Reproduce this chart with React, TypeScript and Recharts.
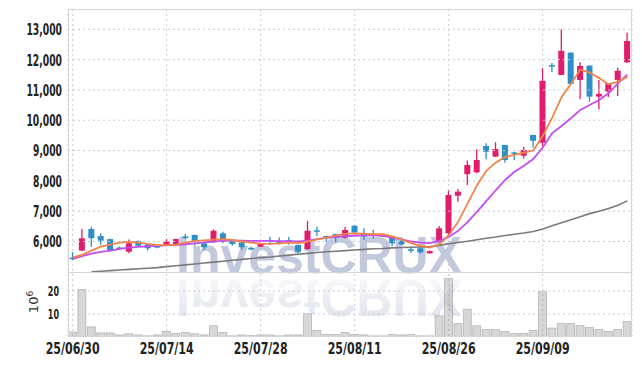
import { ComposedChart, Bar, Line, XAxis, YAxis, CartesianGrid, ReferenceLine } from "recharts";

// trading days 25/06/30 .. 25/09/22
const dates = [
  "25/06/30", "25/07/01", "25/07/02", "25/07/03", "25/07/04", "25/07/07", "25/07/08", "25/07/09", "25/07/10", "25/07/11",
  "25/07/14", "25/07/15", "25/07/16", "25/07/17", "25/07/18", "25/07/21", "25/07/22", "25/07/23", "25/07/24", "25/07/25",
  "25/07/28", "25/07/29", "25/07/30", "25/07/31", "25/08/01", "25/08/04", "25/08/05", "25/08/06", "25/08/07", "25/08/08",
  "25/08/11", "25/08/12", "25/08/13", "25/08/14", "25/08/18", "25/08/19", "25/08/20", "25/08/21", "25/08/22", "25/08/25",
  "25/08/26", "25/08/27", "25/08/28", "25/08/29", "25/09/01", "25/09/02", "25/09/03", "25/09/04", "25/09/05", "25/09/08",
  "25/09/09", "25/09/10", "25/09/11", "25/09/12", "25/09/15", "25/09/16", "25/09/17", "25/09/18", "25/09/19", "25/09/22",
];
const tickDates = ["25/06/30", "25/07/14", "25/07/28", "25/08/11", "25/08/26", "25/09/09"];

const opens = [
  5470, 5700, 6410, 6180, 6080, 5800, 5665, 6015, 5905, 5860,
  5890, 5910, 6170, 6215, 5940, 5975, 6270, 6025, 5975, 5790,
  5830, 6050, 6015, 6040, 5885, 5750, 6370, 6180, 6250, 6125,
  6520, 6270, 6250, 6215, 6140, 6025, 5740, 5775, 5610, 5995,
  6270, 7510, 8220, 8283, 9150, 8800, 9185, 8940, 8830, 9515,
  9260, 11820, 11495, 12230, 11330, 11800, 10780, 10945, 11330, 11910,
];
const highs = [
  5650, 6410, 6490, 6270, 6090, 5840, 6070, 6040, 5920, 5880,
  6080, 6090, 6250, 6230, 5950, 6400, 6325, 6040, 5985, 5830,
  5960, 6160, 6130, 6150, 5900, 6680, 6490, 6190, 6260, 6490,
  6530, 6440, 6390, 6230, 6150, 6040, 5830, 5790, 5700, 6510,
  7680, 7730, 8670, 9040, 9240, 9275, 9190, 8960, 9130, 9520,
  11716, 11890, 13000, 12240, 11910, 11820, 11330, 11230, 11730, 12890,
];
const lows = [
  5390, 5680, 5830, 5885, 5670, 5740, 5610, 5830, 5700, 5780,
  5870, 5880, 6080, 5860, 5720, 5960, 5940, 5860, 5730, 5700,
  5820, 5905, 5900, 5890, 5610, 5720, 6180, 5990, 5970, 6100,
  6290, 6050, 6100, 6150, 5840, 5880, 5620, 5610, 5600, 5960,
  6215, 7310, 7865, 8250, 8710, 8790, 8600, 8690, 8730, 9100,
  9150, 11590, 11490, 11190, 10690, 10610, 10360, 10760, 10800, 11890,
];
const closes = [
  5440, 6105, 6110, 6030, 5690, 5770, 5940, 5860, 5775, 5800,
  5990, 6080, 6150, 6000, 5810, 6356, 6015, 5920, 5810, 5765,
  5940, 6000, 5945, 6010, 5665, 6356, 6345, 6110, 6130, 6380,
  6300, 6160, 6220, 6170, 5940, 5905, 5710, 5645, 5685, 6435,
  7535, 7645, 8525, 8690, 8960, 9050, 8690, 8890, 9020, 9325,
  11300, 11790, 12290, 11200, 11790, 10780, 10870, 11220, 11630, 12615,
];
// volume in millions
const volumes = [
  2.2, 20.7, 4.4, 1.8, 1.8, 0.9, 1.4, 0.9, 0.5, 0.9,
  2.4, 1.5, 1.9, 1.4, 0.9, 4.9, 1.9, 0.5, 0.9, 0.6,
  0.9, 0.9, 0.5, 0.9, 0.9, 10.1, 2.8, 1.1, 1.1, 1.9,
  1.1, 0.9, 0.5, 0.5, 1.1, 0.9, 1.1, 0.5, 0.5, 9.2,
  25.4, 5.8, 12.1, 4.9, 3.2, 3.2, 2.4, 1.5, 1.5, 2.8,
  19.7, 3.9, 5.8, 5.8, 4.9, 4.1, 3.2, 2.4, 3.2, 6.7,
];
const maShort = [
  5480, 5560, 5700, 5830, 5900, 5960, 5990, 5960, 5920, 5880,
  5880, 5900, 5960, 6020, 6040, 6060, 6080, 6050, 6000, 5960,
  5930, 5920, 5940, 5960, 5950, 6000, 6070, 6130, 6200, 6250,
  6270, 6260, 6240, 6240, 6170, 6060, 5950, 5860, 5800, 5900,
  6210, 6650, 7250, 7850, 8330, 8600, 8790, 8860, 8930, 9000,
  9480, 10080, 10760, 11200, 11670, 11570, 11390, 11190, 11270, 11430,
];
const maMid = [
  5430, 5520, 5600, 5660, 5700, 5760, 5800, 5820, 5840, 5860,
  5870, 5890, 5910, 5940, 5970, 6000, 6020, 6030, 6030, 6020,
  6020, 6020, 6010, 6010, 6000, 6030, 6080, 6120, 6150, 6180,
  6190, 6200, 6200, 6190, 6130, 6070, 6000, 5960, 5950, 6020,
  6150, 6350, 6640, 6980, 7330, 7690, 8030, 8300, 8500, 8720,
  9100, 9570, 9810, 10065, 10340, 10505, 10670, 10890, 11220, 11500,
];
const maLong = [
  null, null, 5000, 5020, 5040, 5060, 5080, 5100, 5120, 5140,
  5170, 5200, 5230, 5260, 5290, 5320, 5350, 5380, 5410, 5440,
  5470, 5490, 5520, 5550, 5580, 5610, 5640, 5660, 5680, 5700,
  5720, 5740, 5760, 5770, 5790, 5800, 5810, 5820, 5830, 5870,
  5930, 5970, 6010, 6060, 6110, 6150, 6200, 6240, 6280, 6330,
  6410, 6520, 6620, 6720, 6820, 6920, 7000, 7090, 7200, 7340,
];
const priceTicks = [6000, 7000, 8000, 9000, 10000, 11000, 12000, 13000];
const volumeTicks = [10, 20];

const data = dates.map((date, i) => ({
  date,
  open: opens[i],
  high: highs[i],
  low: lows[i],
  close: closes[i],
  range: [lows[i], highs[i]],
  vol: volumes[i],
  ma5: maShort[i],
  ma20: maMid[i],
  ma60: maLong[i],
}));

const UP = "#e01c6c";
const DOWN = "#2c8fc6";
const GRID = "#c9c9dc";
const FONT = "'DejaVu Sans Condensed', 'DejaVu Sans', sans-serif";

// narrow tall digits: squeeze the text to the width seen in the reference
const textWidth = (s: string, digit: number, sep: number) =>
  s.split("").reduce((w, ch) => w + (/[0-9]/.test(ch) ? digit : sep), 0);

function PriceTick(props: any) {
  const { x, y, payload } = props;
  const s = Number(payload.value).toLocaleString("en-US");
  return (
    <text
      x={x}
      y={y}
      dy="0.37em"
      textAnchor="end"
      textLength={textWidth(s, 6.6, 2.6)}
      lengthAdjust="spacingAndGlyphs"
      fontFamily={FONT}
      fontWeight={700}
      fontSize={16}
      fill="#222"
    >
      {s}
    </text>
  );
}

function DateTick(props: any) {
  const { x, y, payload } = props;
  const s = String(payload.value);
  return (
    <text
      x={x}
      y={y}
      dy="0.72em"
      textAnchor="middle"
      textLength={textWidth(s, 6.5, 7.5)}
      lengthAdjust="spacingAndGlyphs"
      fontFamily={FONT}
      fontWeight={700}
      fontSize={15}
      fill="#222"
    >
      {s}
    </text>
  );
}

function VolLabel(props: any) {
  const { viewBox, text } = props;
  if (!viewBox) return null;
  return (
    <text
      x={viewBox.x - 9}
      y={viewBox.y}
      dy="0.37em"
      textAnchor="end"
      textLength={textWidth(text, 5.6, 3)}
      lengthAdjust="spacingAndGlyphs"
      fontFamily={FONT}
      fontWeight={700}
      fontSize={14}
      fill="#222"
    >
      {text}
    </text>
  );
}

function Candle(props: any) {
  const { x, y, width, height, payload } = props;
  if (x == null || y == null) return null;
  const top = Math.min(y, y + height);
  const h = Math.abs(height);
  const { open, close, high, low } = payload;
  const k = high === low ? 0 : h / (high - low);
  const color = close >= open ? UP : DOWN;
  const cx = x + width / 2;
  const bodyTop = top + (high - Math.max(open, close)) * k;
  const bodyH = Math.max(1.5, Math.abs(open - close) * k);
  const bw = 6;
  return (
    <g>
      <line x1={cx} x2={cx} y1={top} y2={top + h} stroke={color} strokeWidth={1.3} />
      <rect x={cx - bw / 2} y={bodyTop} width={bw} height={bodyH} fill={color} />
    </g>
  );
}

function VolBar(props: any) {
  const { x, y, width, height } = props;
  if (x == null || y == null) return null;
  return (
    <rect
      x={x + 0.5}
      y={y}
      width={Math.max(0, width - 1)}
      height={height}
      fill="#8c8c8c"
      fillOpacity={0.35}
      stroke="#a0a0a0"
      strokeOpacity={0.7}
      strokeWidth={0.8}
    />
  );
}

function Watermark() {
  return (
    <svg width={642} height={366} style={{ position: "absolute", left: 0, top: 0 }}>
      <defs>
        <linearGradient id="wmFade" x1="0" y1="0" x2="0" y2="1">
          <stop offset="0%" stopColor="#c1c7db" stopOpacity={0.55} />
          <stop offset="100%" stopColor="#c1c7db" stopOpacity={0.05} />
        </linearGradient>
      </defs>
      <text
        x={176}
        y={273}
        textLength={286}
        lengthAdjust="spacingAndGlyphs"
        fontFamily="'Liberation Sans', Arial, sans-serif"
        fontWeight={700}
        fontSize={52}
        fill="#c3c9dd"
      >
        InvestCRUX
      </text>
      <g transform="translate(0 553) scale(1 -1)">
        <text
          x={176}
          y={273}
          textLength={286}
          lengthAdjust="spacingAndGlyphs"
          fontFamily="'Liberation Sans', Arial, sans-serif"
          fontWeight={700}
          fontSize={52}
          fill="url(#wmFade)"
        >
          InvestCRUX
        </text>
      </g>
    </svg>
  );
}

export default function App() {
  return (
    <div style={{ position: "relative", width: 642, height: 366, background: "#fff" }}>
      <style>{"body{margin:0}"}</style>
      <Watermark />
      <div style={{ position: "absolute", left: 0, top: 0 }}>
        <ComposedChart
          width={642}
          height={366}
          data={data}
          margin={{ top: 9, right: 10, bottom: 0, left: 0 }}
          barCategoryGap={0}
          barGap={0}
        >
          <CartesianGrid vertical horizontal={false} stroke={GRID} strokeDasharray="2 3" />
          <XAxis
            dataKey="date"
            ticks={tickDates}
            interval={0}
            axisLine={false}
            tickLine={false}
            tickSize={0}
            tickMargin={6}
            height={29}
            tick={<DateTick />}
          />
          <XAxis dataKey="date" xAxisId="vol" hide />
          <YAxis
            yAxisId="p"
            domain={[2850, 13670]}
            ticks={priceTicks}
            allowDataOverflow
            width={68}
            axisLine={false}
            tickLine={false}
            tickSize={0}
            tickMargin={6}
            tick={<PriceTick />}
          />
          <YAxis yAxisId="v" domain={[0, 142.6]} allowDataOverflow hide />
          {priceTicks.map((t) => (
            <ReferenceLine key={"p" + t} yAxisId="p" y={t} stroke={GRID} strokeDasharray="2 3" />
          ))}
          {volumeTicks.map((t) => (
            <ReferenceLine
              key={"v" + t}
              yAxisId="v"
              y={t}
              stroke={GRID}
              strokeDasharray="2 3"
              label={<VolLabel text={String(t)} />}
            />
          ))}
          <Bar
            dataKey="vol"
            yAxisId="v"
            xAxisId="vol"
            shape={<VolBar />}
            isAnimationActive={false}
          />
          <Bar
            dataKey="range"
            yAxisId="p"
            shape={<Candle />}
            isAnimationActive={false}
          />
          <Line
            dataKey="ma60"
            yAxisId="p"
            type="linear"
            stroke="#7a7a7a"
            strokeWidth={1.6}
            dot={false}
            isAnimationActive={false}
          />
          <Line
            dataKey="ma20"
            yAxisId="p"
            type="linear"
            stroke="#c44cf0"
            strokeWidth={1.8}
            dot={false}
            isAnimationActive={false}
          />
          <Line
            dataKey="ma5"
            yAxisId="p"
            type="linear"
            stroke="#f0844c"
            strokeWidth={1.8}
            dot={false}
            isAnimationActive={false}
          />
        </ComposedChart>
      </div>
      <div
        style={{
          position: "absolute",
          left: 68,
          top: 9,
          width: 564,
          height: 328,
          border: "1px solid #d6d6d6",
          boxSizing: "border-box",
          pointerEvents: "none",
        }}
      />
      <div
        style={{
          position: "absolute",
          left: 68,
          top: 272,
          width: 564,
          height: 0,
          borderTop: "1px solid #d6d6d6",
          pointerEvents: "none",
        }}
      />
      <div
        style={{
          position: "absolute",
          left: 33,
          top: 302,
          transform: "translate(-50%, -50%) rotate(-90deg)",
          fontFamily: "'DejaVu Sans', sans-serif",
          fontSize: 13,
          color: "#333",
          whiteSpace: "nowrap",
        }}
      >
        10<sup style={{ fontSize: 9 }}>6</sup>
      </div>
    </div>
  );
}
